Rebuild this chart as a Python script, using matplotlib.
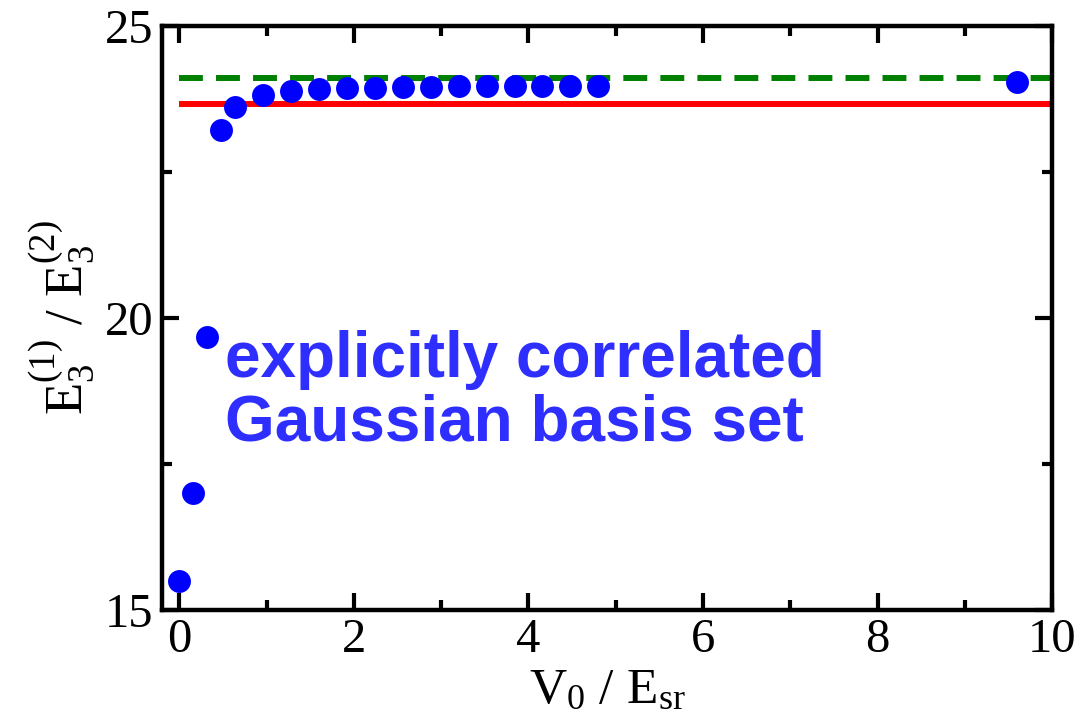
import matplotlib
matplotlib.use("Agg")
import matplotlib.pyplot as plt
from matplotlib.ticker import MultipleLocator

# Energy ratio E3(1)/E3(2) versus lattice depth V0/Esr
v0 = [0.0, 0.16, 0.32, 0.48, 0.64, 0.96, 1.28, 1.60, 1.92, 2.24, 2.56,
      2.88, 3.20, 3.52, 3.84, 4.16, 4.48, 4.80, 9.60]
ratio = [15.50, 17.00, 19.67, 23.22, 23.61, 23.82, 23.89, 23.92, 23.94,
         23.94, 23.95, 23.96, 23.97, 23.97, 23.97, 23.98, 23.98, 23.98, 24.04]

# Reference levels
green_level = 24.11
red_level = 23.66
line_span = [0.0, 10.0]

x_ticks = [0, 2, 4, 6, 8, 10]
y_ticks = [15, 20, 25]

plt.rcParams["font.family"] = ["Liberation Serif", "DejaVu Serif"]
plt.rcParams["mathtext.fontset"] = "custom"
plt.rcParams["mathtext.rm"] = "Liberation Serif"
plt.rcParams["mathtext.it"] = "Liberation Serif"

fig = plt.figure(figsize=(10.78, 7.24), dpi=100)
ax = fig.add_axes([0.1503, 0.1575, 0.8256, 0.8065])

ax.plot(line_span, [green_level, green_level], color=(0, 0.5, 0), lw=4.3,
        dashes=(4.0, 2.2), solid_capstyle="butt", zorder=2)
ax.plot(line_span, [red_level, red_level], color=(1, 0, 0), lw=4.3,
        solid_capstyle="butt", zorder=2)
ax.plot(v0, ratio, "o", color=(0, 0, 1), ms=16.5, mec="none", zorder=3,
        clip_on=False)

ax.set_xlim(-0.2, 10)
ax.set_ylim(15, 25)
ax.set_xticks(x_ticks)
ax.set_yticks(y_ticks)
ax.xaxis.set_minor_locator(MultipleLocator(1))
ax.yaxis.set_minor_locator(MultipleLocator(2.5))
ax.tick_params(which="both", direction="in", top=True, right=True,
               width=3, labelsize=35, pad=6)
ax.tick_params(which="major", length=12)
ax.tick_params(which="minor", length=7.5)
for s in ax.spines.values():
    s.set_linewidth(3.2)
    s.set_joinstyle("round")

ax.set_xlabel(r"$\mathrm{V_0\ /\ E_{sr}}$", fontsize=37, labelpad=4)
ax.set_ylabel(r"$\mathrm{E_3^{(1)}\ /\ E_3^{(2)}}$", fontsize=38, labelpad=6)

ax.text(0.52, 19.8, "explicitly correlated\nGaussian basis set",
        fontsize=46, fontweight="bold", color=(0.18, 0.18, 1.0),
        family=["Liberation Sans", "DejaVu Sans"], va="top", ha="left",
        linespacing=1.08)

fig.savefig("out.png", dpi=100)
